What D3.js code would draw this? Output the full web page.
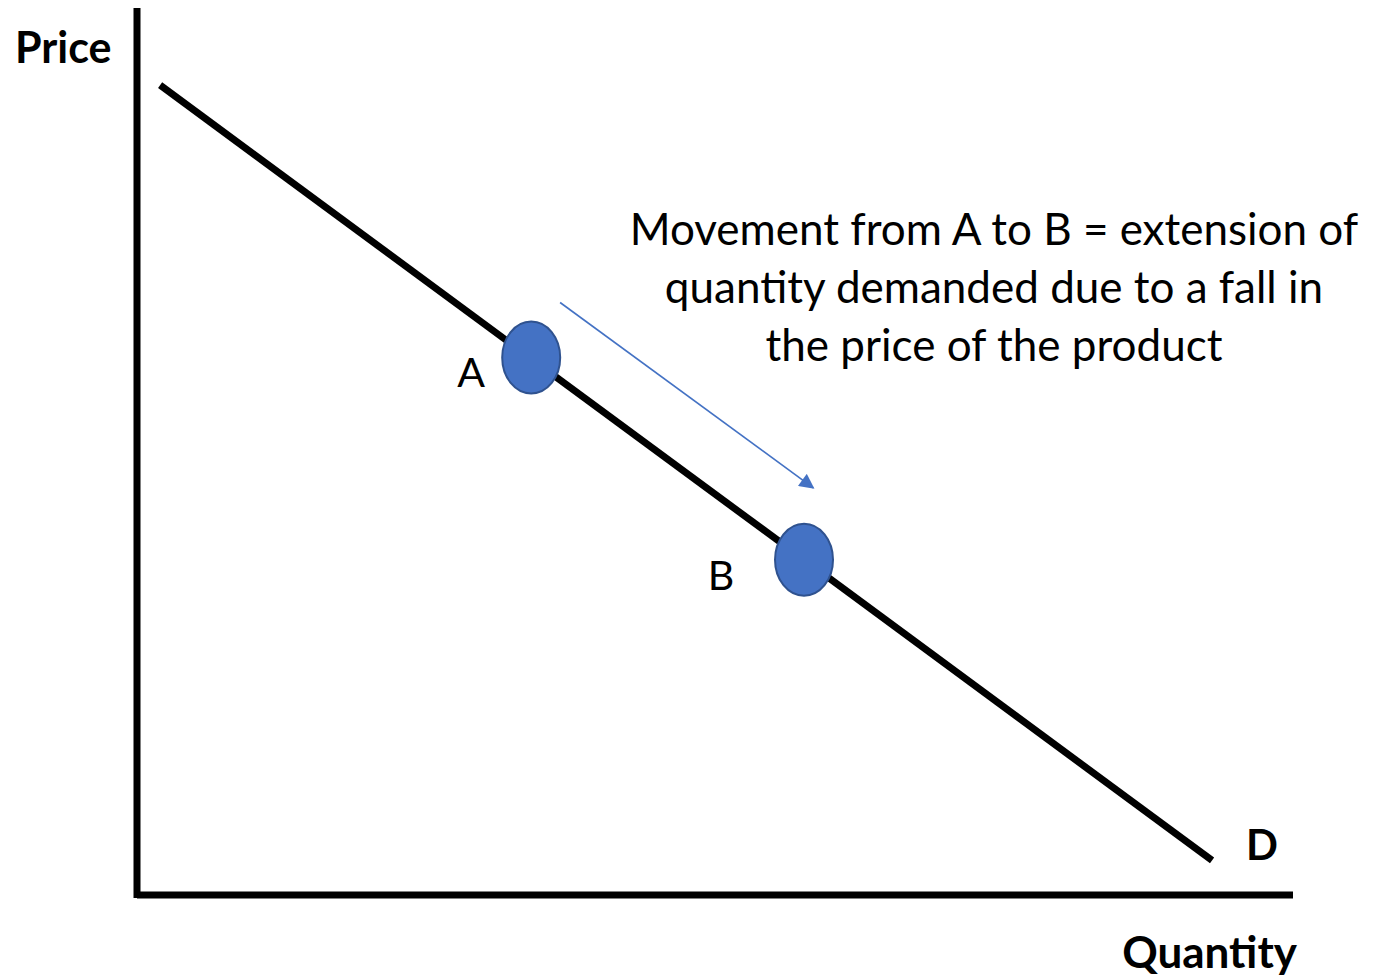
<!DOCTYPE html>
<html>
<head>
<meta charset="utf-8">
<script src="https://cdn.jsdelivr.net/npm/d3@7"></script>
<style>
  body { margin: 0; background: #fff; }
  text { font-family: Lato, "Open Sans", sans-serif; }
</style>
</head>
<body>
<svg></svg>
<script>
const w = 1373
const h = 980

// demand curve end points (quantity, price)
const demandQ = [0.2, 9.3]
const demandP = [9.13, 0.39]

// the two marked points on the curve
const pointNames = ['A', 'B']
const pointQ = [3.41, 5.77]
const pointP = [6.06, 3.78]

// movement arrow (from, to)
const arrowQ = [3.66, 5.85]
const arrowP = [6.68, 4.59]

const noteLines = [
  'Movement from A to B = extension of',
  'quantity demanded due to a fall in',
  'the price of the product'
]

const svg = d3.select('svg')
  .attr('width', w)
  .attr('height', h);

const x = d3.scaleLinear().domain([0, 10]).range([137, 1293]);
const y = d3.scaleLinear().domain([0, 10]).range([895, 8]);

const blue = '#4472C4'

svg.append('defs').append('marker')
  .attr('id', 'head')
  .attr('viewBox', '0 0 10 10')
  .attr('refX', 9).attr('refY', 5)
  .attr('markerWidth', 17).attr('markerHeight', 15)
  .attr('markerUnits', 'userSpaceOnUse')
  .attr('orient', 'auto')
  .append('path')
  .attr('d', 'M0,0 L10,5 L0,10 Z')
  .attr('fill', blue);

// axes (plain lines, no ticks)
svg.append('line')
  .attr('x1', x(0)).attr('x2', x(0))
  .attr('y1', y(10)).attr('y2', y(0) + 3)
  .attr('stroke', '#000').attr('stroke-width', 7);
svg.append('line')
  .attr('x1', x(0)).attr('x2', x(10))
  .attr('y1', y(0)).attr('y2', y(0))
  .attr('stroke', '#000').attr('stroke-width', 7);

// demand line
svg.append('line')
  .attr('x1', x(demandQ[0])).attr('y1', y(demandP[0]))
  .attr('x2', x(demandQ[1])).attr('y2', y(demandP[1]))
  .attr('stroke', '#000').attr('stroke-width', 7);

// arrow
svg.append('line')
  .attr('x1', x(arrowQ[0])).attr('y1', y(arrowP[0]))
  .attr('x2', x(arrowQ[1])).attr('y2', y(arrowP[1]))
  .attr('stroke', blue).attr('stroke-width', 1.6)
  .attr('marker-end', 'url(#head)');

// points
const pts = pointNames.map((n, i) => ({name: n, q: pointQ[i], p: pointP[i]}))
svg.selectAll('ellipse').data(pts)
  .enter().append('ellipse')
  .attr('cx', d => x(d.q))
  .attr('cy', d => y(d.p))
  .attr('rx', 29).attr('ry', 36)
  .attr('fill', blue)
  .attr('stroke', '#2F528F').attr('stroke-width', 2);

// A sits closer to its dot than B does
const labelDx = {A: -60, B: -83}
svg.selectAll('.plabel').data(pts)
  .enter().append('text')
  .attr('class', 'plabel')
  .attr('x', d => x(d.q) + labelDx[d.name])
  .attr('y', d => y(d.p) + 30)
  .attr('text-anchor', 'middle')
  .attr('font-size', 41)
  .text(d => d.name);

// axis titles
svg.append('text')
  .attr('x', 15).attr('y', 63)
  .attr('font-size', 43).attr('font-weight', 'bold')
  .text('Price');
svg.append('text')
  .attr('x', 1297).attr('y', 968)
  .attr('text-anchor', 'end')
  .attr('font-size', 44).attr('font-weight', 'bold')
  .text('Quantity');
svg.append('text')
  .attr('x', 1262).attr('y', 860)
  .attr('text-anchor', 'middle')
  .attr('font-size', 42).attr('font-weight', 'bold')
  .text('D');

// note
svg.append('g').selectAll('text').data(noteLines)
  .enter().append('text')
  .attr('x', 994)
  .attr('y', (d, i) => 245 + i * 58)
  .attr('text-anchor', 'middle')
  .attr('font-size', 44)
  .text(d => d);
</script>
</body>
</html>
